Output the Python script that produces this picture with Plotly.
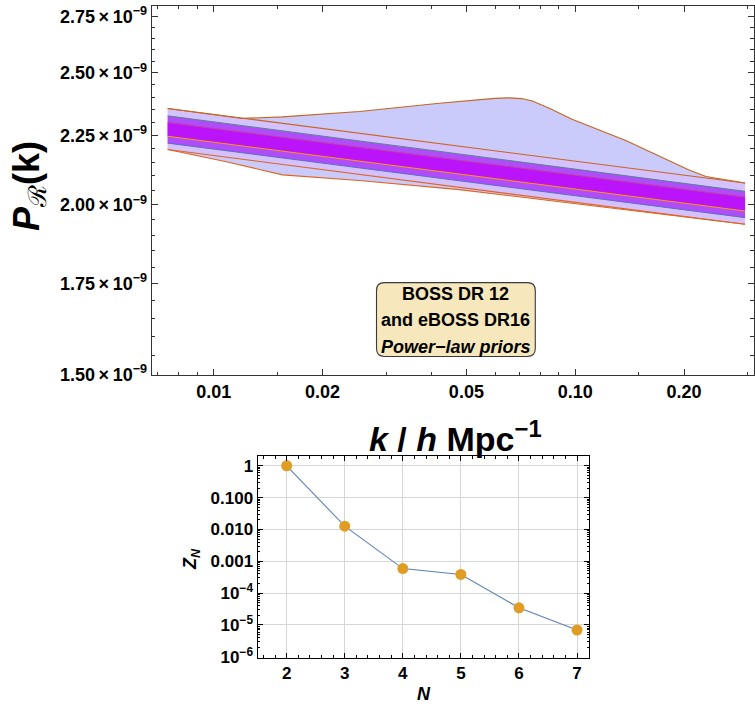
import math
import plotly.graph_objects as go

# ---------------- data ----------------
# straight power-law bands (k in h/Mpc, P in absolute units)
k_band = [0.00746, 0.295]
p_band_upper = [2.354e-9, 2.075e-9]
p_band_teal = [2.325e-9, 2.046e-9]
p_band_pink = [2.299e-9, 2.026e-9]
p_band_center = [2.246e-9, 1.979e-9]
p_band_blue = [2.220e-9, 1.957e-9]
p_band_lower = [2.196e-9, 1.935e-9]

# wide envelope with the bump
k_env_upper = [0.00746, 0.0120, 0.0155, 0.0253, 0.0421, 0.0478, 0.0543, 0.0600, 0.0657,
               0.0710, 0.0761, 0.0848, 0.098, 0.138, 0.2065, 0.230, 0.295]
p_env_upper = [2.354e-9, 2.315e-9, 2.321e-9, 2.342e-9, 2.375e-9, 2.383e-9, 2.390e-9,
               2.395e-9, 2.397e-9, 2.394e-9, 2.384e-9, 2.355e-9, 2.312e-9, 2.230e-9,
               2.121e-9, 2.098e-9, 2.075e-9]
k_env_lower = [0.00746, 0.01084, 0.0155, 0.0253, 0.0478, 0.1026, 0.295]
p_env_lower = [2.196e-9, 2.151e-9, 2.104e-9, 2.084e-9, 2.052e-9, 2.003e-9, 1.935e-9]

y_tick_vals = [1.50e-9, 1.75e-9, 2.00e-9, 2.25e-9, 2.50e-9, 2.75e-9]
y_tick_text = ["1.50", "1.75", "2.00", "2.25", "2.50", "2.75"]
y_minor_vals = [1.55e-9, 1.60e-9, 1.65e-9, 1.70e-9, 1.80e-9, 1.85e-9, 1.90e-9, 1.95e-9,
                2.05e-9, 2.10e-9, 2.15e-9, 2.20e-9, 2.30e-9, 2.35e-9, 2.40e-9, 2.45e-9,
                2.55e-9, 2.60e-9, 2.65e-9, 2.70e-9, 2.80e-9]
x_tick_vals = [0.01, 0.02, 0.05, 0.10, 0.20]
x_tick_text = ["0.01", "0.02", "0.05", "0.10", "0.20"]
x_minor_vals = [0.007, 0.008, 0.009, 0.015, 0.03, 0.04, 0.06, 0.07, 0.08, 0.09, 0.15, 0.3]

# inset: Z_N vs N
N_vals = [2, 3, 4, 5, 6, 7]
Z_vals = [1.0, 0.0127, 5.9e-4, 3.85e-4, 3.46e-5, 6.9e-6]
inset_y_ticks = [1, 0.1, 0.01, 0.001, 1e-4, 1e-5, 1e-6]
inset_y_text = ["1", "0.100", "0.010", "0.001", "10<sup>−4</sup>", "10<sup>−5</sup>", "10<sup>−6</sup>"]
inset_x_ticks = [2, 3, 4, 5, 6, 7]

legend_lines = ["<b>BOSS DR 12</b>", "<b>and eBOSS DR16</b>", "<b><i>Power−law priors</i></b>"]

# ---------------- styling / layout helpers ----------------
W, H = 755, 715
FONT = "Liberation Sans, Arial, sans-serif"


def px(x):
    return x / W


def py(y):
    return 1 - y / H


C_ENV = "#cacafb"
C_BAND = "#d3c2fe"
C_MID = "#b04cfa"
C_MAG = "#bb14fa"
C_OUT = "#e0641e"
C_ENVLINE = "#c8641e"

fig = go.Figure()


def band(xu, yu, xl, yl, color):
    fig.add_trace(go.Scatter(x=list(xu) + list(xl)[::-1], y=list(yu) + list(yl)[::-1],
                             fill="toself", fillcolor=color, mode="none",
                             hoverinfo="skip", showlegend=False, xaxis="x", yaxis="y"))


def line(xs, ys, color, width=1.1):
    fig.add_trace(go.Scatter(x=xs, y=ys, mode="lines", line=dict(color=color, width=width),
                             hoverinfo="skip", showlegend=False, xaxis="x", yaxis="y"))


band(k_env_upper, p_env_upper, k_env_lower, p_env_lower, C_ENV)
band(k_band, p_band_upper, k_band, p_band_lower, C_BAND)
band(k_band, p_band_teal, k_band, p_band_blue, C_MID)
band(k_band, p_band_pink, k_band, p_band_center, C_MAG)

line(k_env_upper, p_env_upper, C_ENVLINE)
line(k_env_lower, p_env_lower, C_OUT)
line(k_band, p_band_upper, C_ENVLINE)
line(k_band, p_band_lower, C_OUT)
line(k_band, p_band_teal, "#4f8a86", 1.0)
line(k_band, p_band_pink, "#c0409c", 1.0)
line(k_band, p_band_center, "#ff9a00", 1.0)
line(k_band, p_band_blue, "#5a6fc4", 1.0)

# inset
fig.add_trace(go.Scatter(x=N_vals, y=Z_vals, mode="lines+markers",
                         line=dict(color="#5e81b5", width=1.1),
                         marker=dict(color="#e19c24", size=11),
                         hoverinfo="skip", showlegend=False, xaxis="x2", yaxis="y2"))

frame = "#333333"

fig.update_layout(
    width=W, height=H,
    margin=dict(l=0, r=0, t=0, b=0),
    paper_bgcolor="white", plot_bgcolor="white",
    font=dict(family=FONT, color="black"),
    xaxis=dict(
        type="log", domain=[px(152), 1.0],
        range=[math.log10(0.006741), math.log10(0.3123)],
        tickmode="array", tickvals=x_tick_vals,
        ticktext=["<b>%s</b>" % t for t in x_tick_text],
        tickfont=dict(family=FONT, size=18, color="black"),
        ticks="inside", ticklen=6, tickwidth=1, tickcolor=frame,
        minor=dict(ticks="inside", ticklen=3.5, tickwidth=1, tickcolor=frame,
                   tickmode="array", tickvals=x_minor_vals, showgrid=False),
        showline=True, linecolor=frame, linewidth=1.3, mirror="ticks",
        showgrid=False, zeroline=False, anchor="y",
    ),
    yaxis=dict(
        type="log", domain=[py(380), py(4.7)],
        range=[math.log10(1.4989e-9), math.log10(2.802e-9)],
        tickmode="array", tickvals=y_tick_vals,
        ticktext=["<b>%s\u2009×\u200910<sup>−9</sup></b>" % t for t in y_tick_text],
        tickfont=dict(family=FONT, size=18, color="black"),
        ticks="inside", ticklen=6, tickwidth=1, tickcolor=frame,
        minor=dict(ticks="inside", ticklen=3.5, tickwidth=1, tickcolor=frame,
                   tickmode="array", tickvals=y_minor_vals, showgrid=False),
        showline=True, linecolor=frame, linewidth=1.3, mirror="ticks",
        showgrid=False, zeroline=False, anchor="x",
    ),
    xaxis2=dict(
        domain=[px(258), px(590)], range=[1.5, 7.21],
        tickmode="array", tickvals=inset_x_ticks,
        ticktext=["<b>%d</b>" % v for v in inset_x_ticks],
        tickfont=dict(family=FONT, size=17, color="black"),
        ticks="inside", ticklen=5, tickwidth=1, tickcolor="black",
        minor=dict(ticks="inside", ticklen=2.5, tickwidth=1, tickcolor="black",
                   dtick=0.2, tick0=1.4, showgrid=False),
        showline=True, linecolor="black", linewidth=1.3, mirror="ticks",
        showgrid=True, gridcolor="#d6d6d6", gridwidth=1.2, zeroline=False, anchor="y2",
    ),
    yaxis2=dict(
        type="log", domain=[py(667), py(462)], range=[-6.03, 0.31],
        tickmode="array", tickvals=inset_y_ticks,
        ticktext=["<b>%s</b>" % t for t in inset_y_text],
        tickfont=dict(family=FONT, size=17, color="black"),
        ticks="inside", ticklen=5, tickwidth=1, tickcolor="black",
        minor=dict(ticks="inside", ticklen=2.5, tickwidth=1, tickcolor="black",
                   dtick="D1", showgrid=False),
        showline=True, linecolor="black", linewidth=1.3, mirror="ticks",
        showgrid=True, gridcolor="#d6d6d6", gridwidth=1.2, zeroline=False, anchor="x2",
    ),
)

# rounded legend box
x0, y0, x1, y1, r = 377, 286, 536, 361, 8
path = (f"M {px(x0 + r)},{py(y0)} L {px(x1 - r)},{py(y0)} Q {px(x1)},{py(y0)} {px(x1)},{py(y0 + r)} "
        f"L {px(x1)},{py(y1 - r)} Q {px(x1)},{py(y1)} {px(x1 - r)},{py(y1)} "
        f"L {px(x0 + r)},{py(y1)} Q {px(x0)},{py(y1)} {px(x0)},{py(y1 - r)} "
        f"L {px(x0)},{py(y0 + r)} Q {px(x0)},{py(y0)} {px(x0 + r)},{py(y0)} Z")
fig.add_shape(type="path", path=path, xref="paper", yref="paper",
              fillcolor="#f7e7bd", line=dict(color="#3a3a3a", width=1.1), layer="above")

for i, txt in enumerate(legend_lines):
    fig.add_annotation(x=px(456.5), y=py(297.5 + 26.7 * i), xref="paper", yref="paper",
                       text=txt, showarrow=False, xanchor="center", yanchor="middle",
                       font=dict(family=FONT, size=18, color="black"))

# axis titles
fig.add_annotation(x=px(29), y=py(188), xref="paper", yref="paper",
                   text="<b><i>P</i></b><sub>ℛ</sub><b>(k)</b>", textangle=-90,
                   showarrow=False, xanchor="center", yanchor="middle",
                   font=dict(family=FONT, size=36, color="black"))
fig.add_annotation(x=px(456), y=py(442), xref="paper", yref="paper",
                   text="<b><i>k</i> / <i>h</i> Mpc<sup>−1</sup></b>",
                   showarrow=False, xanchor="center", yanchor="middle",
                   font=dict(family=FONT, size=34, color="black"))
fig.add_annotation(x=px(192), y=py(567), xref="paper", yref="paper",
                   text="<b><i>Z</i></b><sub><b><i>N</i></b></sub>", textangle=-90,
                   showarrow=False, xanchor="center", yanchor="middle",
                   font=dict(family=FONT, size=18, color="black"))
fig.add_annotation(x=px(425), y=py(704), xref="paper", yref="paper",
                   text="<b><i>N</i></b>",
                   showarrow=False, xanchor="center", yanchor="middle",
                   font=dict(family=FONT, size=18, color="black"))

fig.write_html("out.html")
